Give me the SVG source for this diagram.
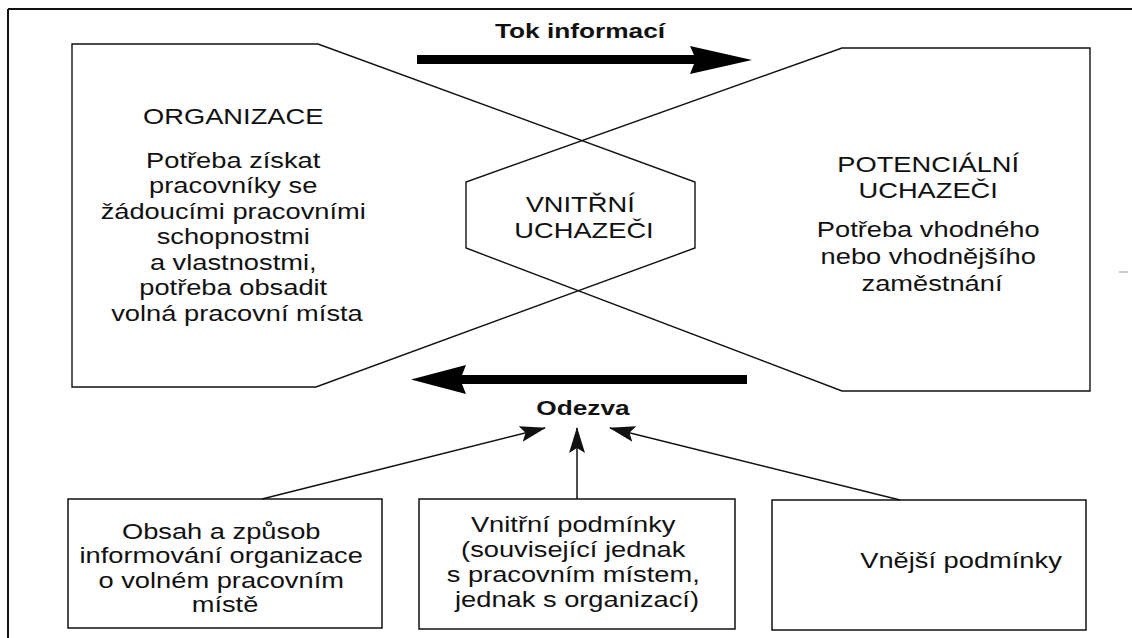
<svg xmlns="http://www.w3.org/2000/svg" width="1132" height="638" viewBox="0 0 1132 638">
<style>
.t{font-family:"Liberation Sans",Arial,sans-serif;font-size:22px;fill:#111;text-anchor:middle}
.b{font-family:"Liberation Sans",Arial,sans-serif;font-size:21px;font-weight:bold;fill:#111;text-anchor:middle}
.shape{fill:none;stroke:#111;stroke-width:1.4;stroke-linejoin:miter}
.box{fill:#fff;stroke:#111;stroke-width:1.5}
.thin{fill:none;stroke:#111;stroke-width:1.5}
.thick{fill:#000;stroke:none}
</style>
<defs>
<marker id="ah" viewBox="0 0 26 16" refX="25" refY="8" markerWidth="26" markerHeight="16" markerUnits="userSpaceOnUse" orient="auto">
<path d="M0,0 L26,8 L0,16 L5,8 Z" fill="#111"/>
</marker>
</defs>
<rect width="1132" height="638" fill="#fff"/>
<g id="frame">
<line x1="8" y1="9" x2="1132" y2="9" stroke="#111" stroke-width="2"/>
<line x1="8" y1="9" x2="8" y2="638" stroke="#111" stroke-width="2"/>
<line x1="1119" y1="272" x2="1128" y2="272" stroke="#999" stroke-width="1"/>
</g>
<g id="organizace">
<path class="shape" d="M318,44 L72,44 L72,387 L316,387 L695,248 L695,182 Z"/>
<text class="t" transform="translate(237 0) scale(1.24 1)">
<tspan x="0" y="124">ORGANIZACE</tspan>
<tspan x="0" y="168">Potřeba získat</tspan>
<tspan x="0" y="193.5">pracovníky se</tspan>
<tspan x="0" y="219">žádoucími pracovními</tspan>
<tspan x="0" y="244.5">schopnostmi</tspan>
<tspan x="0" y="270">a vlastnostmi,</tspan>
<tspan x="0" y="295.5">potřeba obsadit</tspan>
<tspan x="0" y="321">volná pracovní místa</tspan>
</text>
</g>
<g id="potencialni">
<path class="shape" d="M842,48 L1090,48 L1090,391 L842,391 L466,248 L466,182 Z"/>
<text class="t" transform="translate(932 0) scale(1.24 1)">
<tspan x="0" y="172">POTENCIÁLNÍ</tspan>
<tspan x="0" y="198">UCHAZEČI</tspan>
<tspan x="0" y="237">Potřeba vhodného</tspan>
<tspan x="0" y="264">nebo vhodnějšího</tspan>
<tspan x="0" y="291">zaměstnání</tspan>
</text>
</g>
<g id="vnitrni">
<text class="t" transform="translate(584 0) scale(1.24 1)">
<tspan x="0" y="212">VNITŘNÍ</tspan>
<tspan x="0" y="238">UCHAZEČI</tspan>
</text>
</g>
<g id="tok">
<path class="thick" d="M417,55 L694,55 L690,46 L752,60 L690,74 L694,64 L417,64 Z"/>
<text class="b" transform="translate(580 0) scale(1.25 1)"><tspan x="0" y="38">Tok informací</tspan></text>
</g>
<g id="odezva">
<path class="thick" d="M747,375 L462,375 L466,365 L411,379.5 L466,394 L462,384 L747,384 Z"/>
<text class="b" transform="translate(583 0) scale(1.25 1)"><tspan x="0" y="415">Odezva</tspan></text>
</g>
<g id="box1">
<rect class="box" x="68" y="499" width="314" height="129"/>
<text class="t" transform="translate(225 0) scale(1.24 1)">
<tspan x="0" y="539">Obsah a způsob</tspan>
<tspan x="0" y="563.5">informování organizace</tspan>
<tspan x="0" y="588">o volném pracovním</tspan>
<tspan x="0" y="612">místě</tspan>
</text>
</g>
<g id="box2">
<rect class="box" x="419" y="499" width="316" height="130"/>
<text class="t" transform="translate(577 0) scale(1.24 1)">
<tspan x="0" y="532">Vnitřní podmínky</tspan>
<tspan x="0" y="557">(související jednak</tspan>
<tspan x="0" y="582">s pracovním místem,</tspan>
<tspan x="0" y="607">jednak s organizací)</tspan>
</text>
</g>
<g id="box3">
<rect class="box" x="772" y="500" width="314" height="130"/>
<text class="t" transform="translate(961 0) scale(1.24 1)"><tspan x="0" y="568">Vnější podmínky</tspan></text>
</g>
<g id="connectors">
<line class="thin" x1="262" y1="499" x2="545" y2="428" marker-end="url(#ah)"/>
<line class="thin" x1="577" y1="499" x2="577" y2="428" marker-end="url(#ah)"/>
<line class="thin" x1="900" y1="500" x2="610" y2="428" marker-end="url(#ah)"/>
</g>
</svg>
